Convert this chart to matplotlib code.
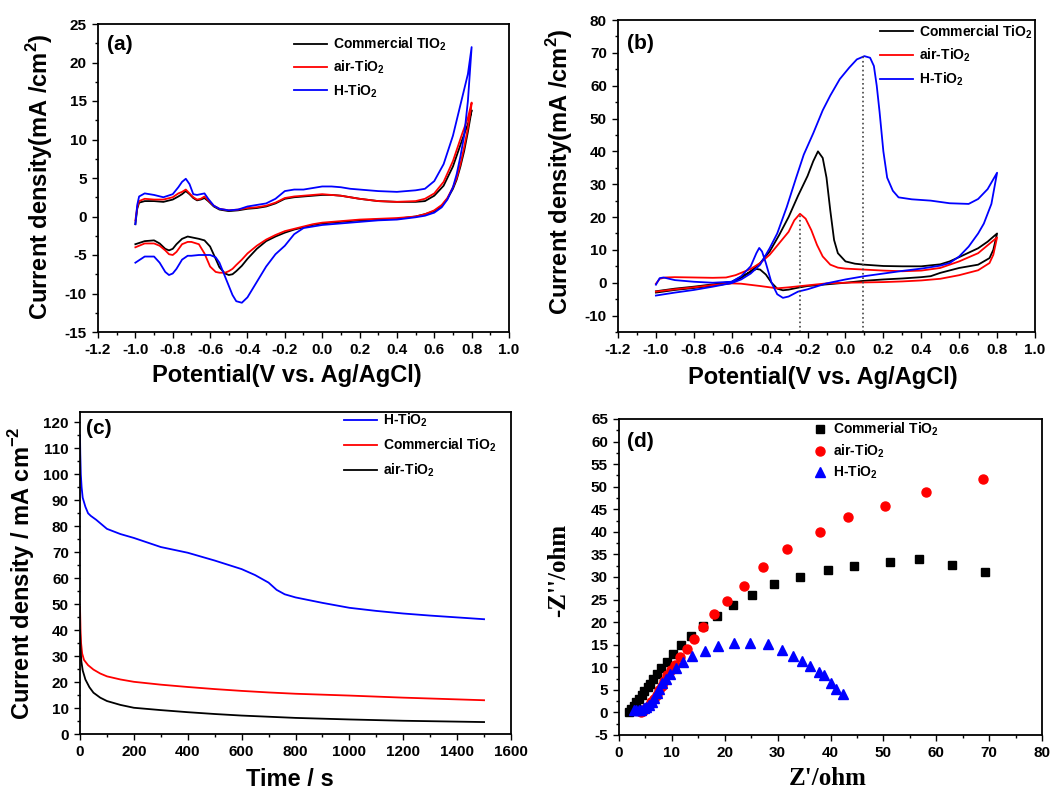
import matplotlib
matplotlib.use("Agg")
import matplotlib.pyplot as plt
from matplotlib.ticker import MultipleLocator, FormatStrFormatter

plt.rcParams['font.family'] = ['Liberation Sans', 'DejaVu Sans']
plt.rcParams['font.weight'] = 'bold'
plt.rcParams['axes.unicode_minus'] = False

# ---- (a) CV, forward / reverse scans (V, mA/cm2) ----
a_v_fwd = [-1.0, -0.99, -0.98, -0.95, -0.9, -0.85, -0.8, -0.77, -0.75, -0.73, -0.71,
           -0.69, -0.67, -0.65, -0.63, -0.61, -0.58, -0.55, -0.5, -0.45, -0.4, -0.35,
           -0.3, -0.25, -0.2, -0.15, -0.1, -0.05, 0.0, 0.05, 0.1, 0.15, 0.2, 0.3, 0.4,
           0.5, 0.55, 0.6, 0.65, 0.7, 0.75, 0.78, 0.8]
a_comm_fwd = [-1.0, 1.0, 1.8, 2.0, 2.0, 1.9, 2.2, 2.6, 2.9, 3.3, 2.9, 2.4, 2.1, 2.2, 2.4,
              2.0, 1.3, 0.9, 0.7, 0.8, 1.0, 1.1, 1.3, 1.7, 2.3, 2.5, 2.6, 2.7, 2.8, 2.8,
              2.7, 2.5, 2.3, 2.0, 1.9, 1.9, 2.0, 2.7, 4.0, 6.5, 10.0, 12.0, 13.8]
a_air_fwd = [-0.5, 1.2, 2.0, 2.3, 2.2, 2.2, 2.5, 3.0, 3.2, 3.5, 3.0, 2.5, 2.2, 2.3, 2.6,
             2.1, 1.4, 1.0, 0.8, 0.9, 1.1, 1.2, 1.4, 1.8, 2.4, 2.6, 2.7, 2.8, 2.9, 2.8,
             2.7, 2.5, 2.3, 2.0, 1.9, 2.0, 2.3, 3.0, 4.5, 7.2, 10.8, 12.8, 14.8]
a_h_fwd = [-1.0, 1.5, 2.6, 3.0, 2.8, 2.5, 2.9, 3.8, 4.5, 4.9, 4.2, 2.9, 2.8, 2.9, 3.0,
           2.3, 1.4, 1.0, 0.8, 0.9, 1.3, 1.5, 1.7, 2.3, 3.3, 3.5, 3.5, 3.7, 3.9, 3.9,
           3.8, 3.6, 3.5, 3.3, 3.2, 3.4, 3.6, 4.6, 6.8, 10.5, 15.5, 18.5, 22.0]

a_v_rev = [0.8, 0.78, 0.76, 0.74, 0.72, 0.7, 0.67, 0.64, 0.6, 0.55, 0.5, 0.4, 0.3, 0.2,
           0.1, 0.0, -0.05, -0.1, -0.15, -0.2, -0.25, -0.3, -0.35, -0.4, -0.43, -0.46,
           -0.48, -0.5, -0.52, -0.55, -0.57, -0.6, -0.63, -0.66, -0.7, -0.72, -0.75,
           -0.78, -0.8, -0.82, -0.84, -0.87, -0.9, -0.95, -1.0]
a_comm_rev = [13.8, 11.0, 8.5, 6.5, 4.8, 3.6, 2.3, 1.4, 0.7, 0.3, 0.0, -0.3, -0.4, -0.5,
              -0.7, -0.9, -1.1, -1.4, -1.7, -2.1, -2.6, -3.2, -4.2, -5.5, -6.4, -7.1,
              -7.5, -7.6, -7.4, -6.6, -5.5, -3.9, -3.1, -2.9, -2.7, -2.6, -2.9, -3.6,
              -4.2, -4.4, -4.2, -3.5, -3.1, -3.2, -3.6]
a_air_rev = [14.6, 11.5, 9.0, 6.8, 5.0, 3.8, 2.4, 1.5, 0.8, 0.3, 0.0, -0.2, -0.3, -0.4,
             -0.6, -0.8, -1.0, -1.3, -1.6, -1.9, -2.4, -3.0, -3.8, -4.8, -5.6, -6.3,
             -6.8, -7.1, -7.3, -7.3, -7.2, -6.5, -4.8, -3.6, -3.3, -3.3, -3.6, -4.6,
             -5.0, -4.9, -4.4, -3.8, -3.5, -3.5, -4.0]
a_h_rev = [22.0, 15.0, 10.5, 7.8, 5.5, 3.8, 2.2, 1.2, 0.5, 0.1, -0.1, -0.4, -0.5, -0.7,
           -0.9, -1.1, -1.3, -1.5, -2.3, -3.8, -4.9, -6.5, -8.5, -10.5, -11.2, -11.0,
           -10.2, -9.0, -7.8, -6.0, -5.3, -5.0, -5.0, -5.0, -5.1, -5.1, -5.6, -6.8,
           -7.4, -7.6, -7.2, -6.0, -5.2, -5.2, -6.0]

# ---- (b) CV in methanol ----
b_comm_v1 = [-1.0, -0.9, -0.8, -0.7, -0.6, -0.55, -0.5, -0.45, -0.4, -0.35, -0.3, -0.25,
             -0.2, -0.17, -0.145, -0.12, -0.1, -0.08, -0.06, -0.04, 0.0, 0.05, 0.1, 0.2,
             0.3, 0.4, 0.5, 0.55, 0.6, 0.7, 0.75, 0.8]
b_comm_j1 = [-3.0, -2.2, -1.6, -0.9, -0.1, 1.5, 3.5, 6.0, 9.5, 14.5, 20.0, 26.5, 32.5,
             37.0, 40.0, 38.0, 32.0, 22.0, 13.0, 9.0, 6.5, 5.8, 5.5, 5.1, 5.0, 5.0, 5.6,
             6.5, 7.8, 10.5, 12.5, 15.0]
b_comm_v2 = [0.8, 0.78, 0.76, 0.7, 0.6, 0.5, 0.45, 0.4, 0.3, 0.2, 0.1, 0.0, -0.1, -0.2,
             -0.25, -0.3, -0.33, -0.36, -0.39, -0.42, -0.45, -0.47, -0.5, -0.55, -0.6,
             -0.7, -0.8, -0.9, -1.0]
b_comm_j2 = [15.0, 10.0, 7.5, 5.5, 4.5, 3.0, 2.0, 1.7, 1.3, 1.0, 0.6, 0.0, -0.5, -1.0,
             -1.5, -2.1, -2.3, -1.8, 0.0, 2.5, 4.0, 4.2, 3.3, 1.8, 0.3, -0.5, -1.2, -1.8,
             -2.6]

b_air_v1 = [-1.0, -0.98, -0.95, -0.9, -0.8, -0.7, -0.63, -0.58, -0.5, -0.45, -0.4, -0.35,
            -0.3, -0.27, -0.24, -0.21, -0.18, -0.15, -0.12, -0.08, -0.04, 0.0, 0.1, 0.2,
            0.3, 0.4, 0.5, 0.6, 0.7, 0.8]
b_air_j1 = [-0.3, 1.2, 1.6, 1.7, 1.6, 1.5, 1.6, 2.3, 4.2, 6.0, 8.5, 12.0, 15.5, 19.0,
            21.0, 19.5, 16.0, 11.5, 8.0, 5.5, 4.6, 4.3, 4.0, 3.7, 3.5, 3.7, 4.5, 6.5,
            9.0, 13.8]
b_air_v2 = [0.8, 0.78, 0.76, 0.7, 0.6, 0.5, 0.4, 0.3, 0.2, 0.0, -0.1, -0.2, -0.3, -0.36,
            -0.45, -0.55, -0.6, -0.7, -0.8, -0.9, -1.0]
b_air_j2 = [13.8, 8.5, 6.0, 3.8, 2.3, 1.2, 0.7, 0.4, 0.2, 0.0, -0.2, -0.8, -1.4, -1.7,
            -1.0, -0.3, -0.2, -0.7, -1.4, -2.0, -2.7]

b_h_v1 = [-1.0, -0.9, -0.8, -0.7, -0.6, -0.55, -0.5, -0.45, -0.4, -0.36, -0.31, -0.26,
          -0.22, -0.17, -0.12, -0.08, -0.03, 0.02, 0.06, 0.1, 0.13, 0.15, 0.165, 0.18,
          0.2, 0.22, 0.25, 0.28, 0.35, 0.45, 0.55, 0.65, 0.7, 0.75, 0.8]
b_h_j1 = [-3.9, -3.0, -2.2, -1.2, -0.1, 1.0, 2.8, 5.5, 10.5, 15.0, 23.0, 32.0, 39.0,
          45.5, 52.5, 57.0, 62.0, 65.5, 68.0, 69.0, 68.5, 66.0, 60.0, 52.0, 40.0, 32.0,
          28.0, 26.0, 25.4, 25.0, 24.2, 24.0, 25.5, 28.5, 33.5]
b_h_v2 = [0.8, 0.77, 0.73, 0.7, 0.65, 0.6, 0.55, 0.5, 0.4, 0.3, 0.2, 0.1, 0.0, -0.1,
          -0.2, -0.25, -0.3, -0.33, -0.36, -0.39, -0.42, -0.44, -0.455, -0.47, -0.5,
          -0.55, -0.6, -0.7, -0.8, -0.9, -0.96, -0.98, -1.0]
b_h_j2 = [33.5, 24.0, 18.0, 15.0, 11.0, 8.0, 6.0, 5.2, 4.3, 3.6, 2.8, 2.0, 1.0, -0.2,
          -2.0, -2.7, -4.2, -4.6, -3.5, 0.0, 6.0, 9.5, 10.6, 9.0, 5.0, 2.0, 0.3, 0.0,
          0.3, 0.8, 1.6, 1.4, -0.6]

b_peak_v = [-0.24, 0.095]
b_peak_j = [21.0, 69.0]

# ---- (c) chronoamperometry ----
c_h_t = [0, 1, 3, 6, 10, 20, 30, 40, 60, 100, 150, 200, 300, 400, 500, 600, 650, 700,
         730, 760, 800, 900, 1000, 1100, 1200, 1300, 1400, 1500]
c_h_j = [115, 108, 100, 95, 91, 87.5, 85, 84, 82.5, 79, 77, 75.5, 72, 69.8, 66.8, 63.5,
         61.2, 58.3, 55.5, 53.8, 52.6, 50.5, 48.6, 47.4, 46.4, 45.6, 44.9, 44.2]
c_comm_t = [0, 2, 4, 8, 15, 30, 50, 75, 100, 150, 200, 300, 400, 500, 600, 700, 800,
            1000, 1200, 1500]
c_comm_j = [49, 40, 35, 31, 28.5, 26.5, 24.8, 23.3, 22.2, 21, 20.1, 19, 18.1, 17.3, 16.6,
            16, 15.5, 14.8, 14, 13]
c_air_t = [0, 2, 5, 10, 20, 35, 50, 75, 100, 150, 200, 300, 400, 500, 600, 800, 1000,
           1200, 1500]
c_air_j = [40, 33, 28, 24.5, 21, 18, 15.9, 14, 12.7, 11.2, 10.1, 9.2, 8.4, 7.7, 7.1, 6.2,
           5.6, 5.1, 4.6]

# ---- (d) Nyquist ----
d_comm_x = [1.8, 2.3, 2.8, 3.3, 3.8, 4.3, 4.8, 5.4, 5.9, 6.4, 7.1, 8.0, 9.0, 10.2, 11.7,
            13.6, 15.9, 18.5, 21.5, 25.2, 29.3, 34.3, 39.6, 44.4, 51.3, 56.8, 62.9, 69.3]
d_comm_y = [0.2, 0.8, 1.5, 2.3, 3.0, 3.8, 4.7, 5.6, 6.4, 7.3, 8.5, 9.9, 11.1, 12.9, 14.9,
            17.0, 19.2, 21.4, 23.7, 26.1, 28.4, 30.0, 31.6, 32.4, 33.4, 33.9, 32.6, 31.2]
d_air_x = [4.1, 4.6, 5.1, 5.6, 6.1, 6.6, 7.1, 7.6, 8.1, 8.6, 9.1, 9.8, 10.6, 11.6, 12.8,
           14.1, 15.9, 17.9, 20.5, 23.7, 27.3, 31.7, 38.0, 43.4, 50.4, 58.1, 68.8]
d_air_y = [0.0, 0.4, 0.9, 1.5, 2.2, 3.0, 3.9, 4.9, 5.9, 7.0, 8.2, 9.3, 10.5, 12.2, 14.1,
           16.3, 18.9, 21.7, 24.7, 28.1, 32.3, 36.1, 40.0, 43.4, 45.7, 48.8, 51.8]
d_h_x = [2.8, 3.2, 3.7, 4.2, 4.7, 5.2, 5.7, 6.2, 6.6, 7.1, 7.6, 8.2, 8.8, 9.6, 10.7, 12.1,
         13.9, 16.2, 18.8, 21.8, 24.7, 28.1, 30.9, 32.9, 34.7, 36.1, 37.8, 38.8, 40.1,
         41.0, 42.3]
d_h_y = [0.5, 0.5, 0.5, 0.6, 0.9, 1.2, 1.7, 2.4, 3.3, 4.3, 5.3, 6.5, 7.5, 8.6, 9.9, 11.2,
         12.5, 13.7, 14.7, 15.3, 15.4, 15.1, 13.8, 12.6, 11.4, 10.3, 9.0, 8.2, 6.6, 5.2,
         4.1]

SUB2 = '$_\\mathregular{2}$'
W, H = 1060, 792
fig = plt.figure(figsize=(10.6, 7.92), dpi=100)
axes = []


def make_ax(l, t, r, b):
    ax = fig.add_axes([l / W, 1 - b / H, (r - l) / W, (b - t) / H])
    for s in ax.spines.values():
        s.set_linewidth(1.3)
    ax.tick_params(which='both', direction='out', top=False, right=False,
                   labelsize=11, width=1.0)
    ax.tick_params(which='major', length=4.5)
    ax.tick_params(which='minor', length=2.5)
    axes.append(ax)
    return ax


def leg(ax, x, y, spacing, hlen=2.4):
    return ax.legend(loc='upper left', bbox_to_anchor=(x, y), frameon=False,
                     borderpad=0, borderaxespad=0, handlelength=hlen,
                     handletextpad=0.4, labelspacing=spacing,
                     prop={'weight': 'bold', 'size': 10})


lw = 1.3
# (a)
ax = make_ax(98, 24, 509, 332)
ax.plot(a_v_fwd + a_v_rev, a_comm_fwd + a_comm_rev, color='black', lw=lw,
        label='Commercial TIO' + SUB2)
ax.plot(a_v_fwd + a_v_rev, a_air_fwd + a_air_rev, color='red', lw=lw,
        label='air-TiO' + SUB2)
ax.plot(a_v_fwd + a_v_rev, a_h_fwd + a_h_rev, color='blue', lw=lw,
        label='H-TiO' + SUB2)
ax.set_xlim(-1.2, 1.0)
ax.set_ylim(-15, 25)
ax.xaxis.set_major_locator(MultipleLocator(0.2))
ax.xaxis.set_minor_locator(MultipleLocator(0.1))
ax.xaxis.set_major_formatter(FormatStrFormatter('%.1f'))
ax.yaxis.set_major_locator(MultipleLocator(5))
ax.yaxis.set_minor_locator(MultipleLocator(2.5))
ax.set_xlabel('Potential(V vs. Ag/AgCl)', fontsize=17, fontweight='bold')
ax.set_ylabel('Current density(mA /cm$^\\mathregular{2}$)', fontsize=17, fontweight='bold')
ax.xaxis.set_label_coords(0.46, -0.105)
ax.yaxis.set_label_coords(-0.105, 0.505)
ax.text(0.022, 0.935, '(a)', transform=ax.transAxes, fontsize=15, fontweight='bold',
        va='center')
leg(ax, 0.477, 0.962, 0.42)

# (b)
ax = make_ax(618, 20, 1035, 332)
ax.plot(b_comm_v1 + b_comm_v2, b_comm_j1 + b_comm_j2, color='black', lw=lw,
        label='Commercial TiO' + SUB2)
ax.plot(b_air_v1 + b_air_v2, b_air_j1 + b_air_j2, color='red', lw=lw,
        label='air-TiO' + SUB2)
ax.plot(b_h_v1 + b_h_v2, b_h_j1 + b_h_j2, color='blue', lw=lw,
        label='H-TiO' + SUB2)
ax.vlines(b_peak_v, -15, b_peak_j, colors='#444444', linestyles=':', lw=1.2)
ax.set_xlim(-1.2, 1.0)
ax.set_ylim(-15, 80)
ax.xaxis.set_major_locator(MultipleLocator(0.2))
ax.xaxis.set_minor_locator(MultipleLocator(0.1))
ax.xaxis.set_major_formatter(FormatStrFormatter('%.1f'))
ax.yaxis.set_major_locator(MultipleLocator(10))
ax.yaxis.set_minor_locator(MultipleLocator(5))
ax.set_yticks([-10, 0, 10, 20, 30, 40, 50, 60, 70, 80])
ax.set_xlabel('Potential(V vs. Ag/AgCl)', fontsize=17, fontweight='bold')
ax.set_ylabel('Current density(mA /cm$^\\mathregular{2}$)', fontsize=17, fontweight='bold')
ax.xaxis.set_label_coords(0.492, -0.108)
ax.yaxis.set_label_coords(-0.103, 0.513)
ax.text(0.022, 0.926, '(b)', transform=ax.transAxes, fontsize=15, fontweight='bold',
        va='center')
leg(ax, 0.628, 0.99, 0.46)

# (c)
ax = make_ax(80, 412, 511, 734)
ax.plot(c_h_t, c_h_j, color='blue', lw=lw, label='H-TiO' + SUB2)
ax.plot(c_comm_t, c_comm_j, color='red', lw=lw, label='Commercial TiO' + SUB2)
ax.plot(c_air_t, c_air_j, color='black', lw=lw, label='air-TiO' + SUB2)
ax.set_xlim(0, 1600)
ax.set_ylim(0, 124)
ax.xaxis.set_major_locator(MultipleLocator(200))
ax.xaxis.set_minor_locator(MultipleLocator(100))
ax.yaxis.set_major_locator(MultipleLocator(10))
ax.yaxis.set_minor_locator(MultipleLocator(5))
ax.set_xlabel('Time / s', fontsize=17, fontweight='bold')
ax.set_ylabel('Current density / mA cm$^\\mathregular{-2}$', fontsize=17, fontweight='bold')
ax.xaxis.set_label_coords(0.487, -0.105)
ax.yaxis.set_label_coords(-0.1, 0.5)
ax.text(0.014, 0.95, '(c)', transform=ax.transAxes, fontsize=15, fontweight='bold',
        va='center')
leg(ax, 0.6125, 1.0, 0.53)

# (d)
ax = make_ax(619, 419, 1042, 735)
ax.plot(d_comm_x, d_comm_y, 's', color='black', ms=5.8, lw=0, label='Commerial TiO' + SUB2)
ax.plot(d_air_x, d_air_y, 'o', color='red', ms=6.5, lw=0, label='air-TiO' + SUB2)
ax.plot(d_h_x, d_h_y, '^', color='blue', ms=6.5, lw=0, label='H-TiO' + SUB2)
ax.set_xlim(0, 80)
ax.set_ylim(-5, 65)
ax.xaxis.set_major_locator(MultipleLocator(10))
ax.xaxis.set_minor_locator(MultipleLocator(5))
ax.yaxis.set_major_locator(MultipleLocator(5))
ax.yaxis.set_minor_locator(MultipleLocator(2.5))
ax.set_xlabel("Z'/ohm", fontsize=18, fontweight='bold', family='Liberation Serif')
ax.set_ylabel("-Z''/ohm", fontsize=18, fontweight='bold', family='Liberation Serif')
ax.xaxis.set_label_coords(0.494, -0.1)
ax.yaxis.set_label_coords(-0.116, 0.522)
ax.text(0.019, 0.93, '(d)', transform=ax.transAxes, fontsize=15, fontweight='bold',
        va='center')
leg(ax, 0.459, 0.994, 0.3, hlen=1.0)

# make tick labels bold once the ticks exist
fig.canvas.draw()
for ax in axes:
    for lab in ax.get_xticklabels() + ax.get_yticklabels():
        lab.set_fontweight('bold')
        lab.set_fontfamily(['Liberation Sans', 'DejaVu Sans'])

fig.savefig('out.png', dpi=100)
